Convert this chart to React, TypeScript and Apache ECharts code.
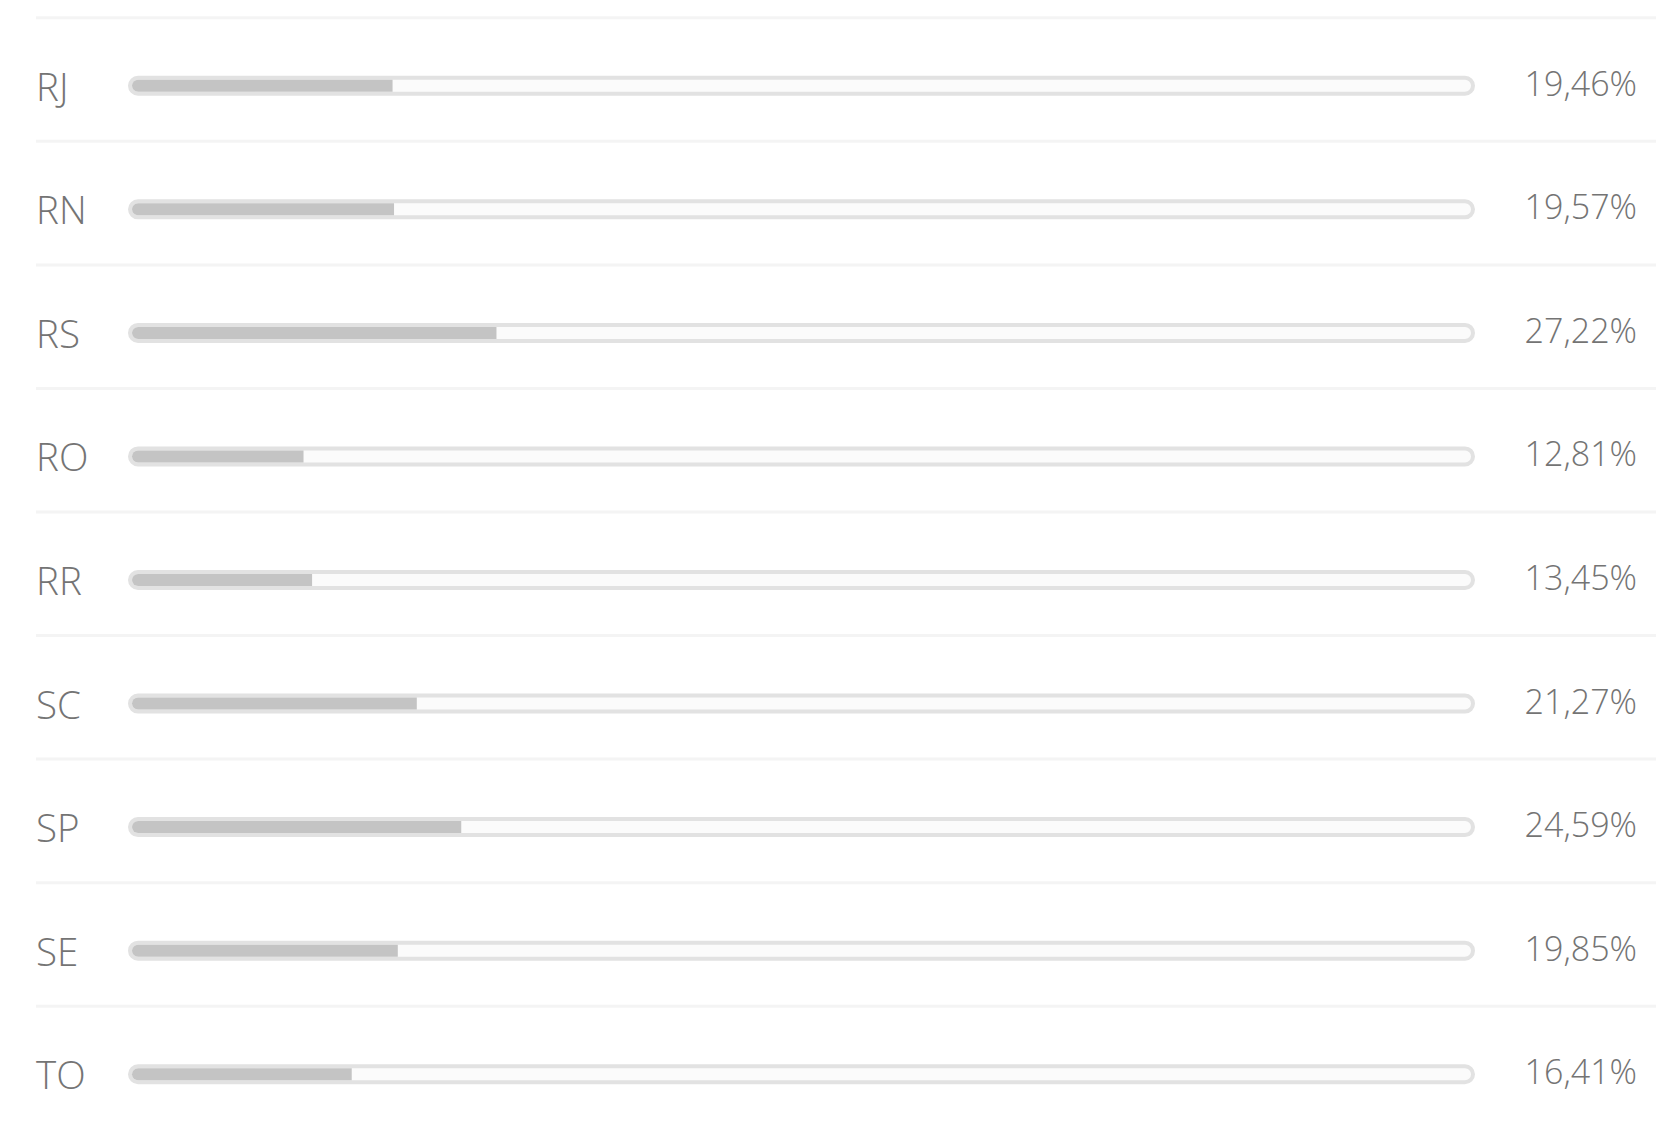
import React, { useEffect, useRef } from "react";
import * as echarts from "echarts";

const categories = ["RJ", "RN", "RS", "RO", "RR", "SC", "SP", "SE", "TO"];
const values = [19.46, 19.57, 27.22, 12.81, 13.45, 21.27, 24.59, 19.85, 16.41];
const labels = values.map((v) => v.toFixed(2).replace(".", ",") + "%");

export default function App() {
  const ref = useRef<HTMLDivElement>(null);
  useEffect(() => {
    document.body.style.margin = "0";
    const chart = echarts.init(ref.current!, null, { renderer: "svg" });
    const textColor = "#747474";
    chart.setOption({
      animation: false,
      backgroundColor: "#ffffff",
      grid: { left: 132, top: 24, width: 1339, height: 1116 },
      xAxis: {
        type: "value",
        min: 0,
        max: 100,
        show: false,
      },
      yAxis: {
        type: "category",
        data: categories,
        inverse: true,
        axisLine: { show: false },
        axisTick: { show: false },
        splitLine: { show: false },
        axisLabel: {
          align: "left",
          margin: 96,
          fontFamily: "Open Sans",
          fontWeight: 350,
          fontSize: 38.5,
          color: textColor,
        },
      },
      series: [
        {
          type: "custom",
          clip: false,
          z: 1,
          data: values.map((v, i) => [i, v]),
          renderItem: (params: any, api: any) => {
            const i = api.value(0);
            const start = api.coord([0, i]);
            const end = api.coord([100, i]);
            const cy = start[1];
            return {
              type: "group",
              children: [
                {
                  type: "rect",
                  shape: { x: 36, y: cy - 69.5, width: 1620, height: 3 },
                  style: { fill: "#f4f4f4" },
                },
                {
                  type: "rect",
                  shape: {
                    x: start[0] - 2,
                    y: cy - 8,
                    width: end[0] - start[0] + 4,
                    height: 16,
                    r: 8,
                  },
                  style: { fill: "#fbfbfb", stroke: "#e2e2e2", lineWidth: 4 },
                },
                {
                  type: "text",
                  x: end[0] + 166,
                  y: cy - 3,
                  style: {
                    text: labels[i],
                    align: "right",
                    verticalAlign: "middle",
                    fontFamily: "Open Sans",
                    fontWeight: 350,
                    fontSize: 34,
                    fill: textColor,
                  },
                },
              ],
            };
          },
        },
        {
          type: "bar",
          z: 3,
          data: values,
          barWidth: 12,
          itemStyle: { color: "#c4c4c4", borderRadius: [6, 0, 0, 6] },
        },
      ],
    });
    return () => chart.dispose();
  }, []);
  return (
    <div
      ref={ref}
      style={{ position: "absolute", left: 0, top: 0, width: 1680, height: 1136 }}
    />
  );
}
